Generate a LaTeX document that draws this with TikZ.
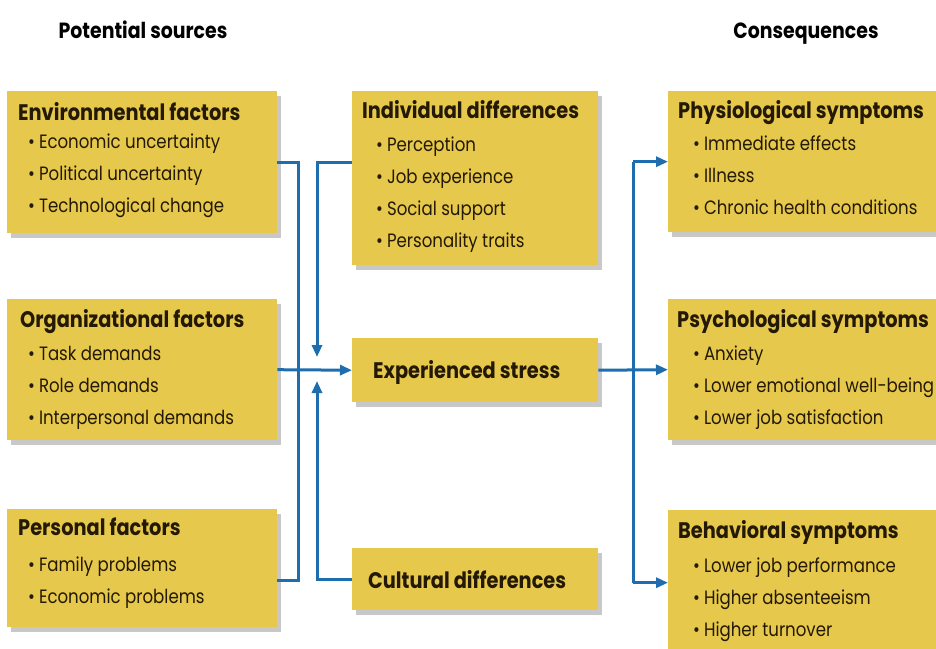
\documentclass[tikz,border=0pt]{standalone}
\usepackage{fontspec}
\setmainfont{Poppins}[FakeStretch=0.86]
\usetikzlibrary{arrows.meta,shadows}
\definecolor{boxfill}{RGB}{230,200,76}
\definecolor{linkblue}{RGB}{30,110,175}
\definecolor{txtdark}{RGB}{35,25,5}
\newcommand\boxtext[7]{% name, title x, title baseline, item x, first item baseline, title, items
  \node[ttl] (#1-t) at (#2,#3) {#6};
  \foreach \txt [count=\k] in {#7} {
    \node[itm] (#1-\k) at (#4, #5+\k*32-32) {\textbullet\hspace{4pt}\txt};
  }
}
\begin{document}
\begin{tikzpicture}[x=1pt,y=-1pt,
  box/.style={draw=none, fill=boxfill, inner sep=0pt, anchor=north west,
    drop shadow={shadow xshift=4pt, shadow yshift=-5pt, fill=black!70, opacity=0.3}},
  ttl/.style={font=\bfseries\fontsize{22.5}{26}\selectfont, text=txtdark, inner sep=0pt, anchor=base west},
  itm/.style={font=\fontsize{19.3}{23}\selectfont, text=txtdark, inner sep=0pt, anchor=base west},
  hdr/.style={font=\bfseries\fontsize{22}{26}\selectfont, text=black, inner sep=0pt, anchor=base},
  link/.style={draw=linkblue, line width=3pt},
  arr/.style={link, -{Triangle[length=12pt,width=10pt]}},
]
\useasboundingbox (0,0) rectangle (936,648);
\fill[white] (0,0) rectangle (936,648);

\node[hdr] (hsrc) at (143,38) {Potential sources};
\node[hdr] (hcon) at (806,38) {Consequences};

\node[box, minimum width=270pt, minimum height=142pt] (env) at (7,91) {};
\node[box, minimum width=270pt, minimum height=141pt] (org) at (7,299) {};
\node[box, minimum width=270pt, minimum height=118pt] (pers) at (7,509) {};
\node[box, minimum width=246pt, minimum height=174pt] (ind) at (352,91) {};
\node[box, minimum width=246pt, minimum height=64pt] (exp) at (352,338) {};
\node[box, minimum width=246pt, minimum height=62pt] (cult) at (352,548) {};
\node[box, minimum width=275pt, minimum height=141pt] (phys) at (668,91) {};
\node[box, minimum width=275pt, minimum height=141pt] (psy) at (668,299) {};
\node[box, minimum width=275pt, minimum height=145pt] (beh) at (668,510) {};

\boxtext{envt}{18}{120}{28}{148}{Environmental factors}{Economic uncertainty,Political uncertainty,Technological change}
\boxtext{orgt}{20}{327}{28}{360}{Organizational factors}{Task demands,Role demands,Interpersonal demands}
\boxtext{perst}{18}{535}{28}{571}{Personal factors}{Family problems,Economic problems}
\boxtext{indt}{362}{118}{376}{151}{Individual differences}{Perception,Job experience,Social support,Personality traits}
\node[ttl] (expt) at (373,378) {Experienced stress};
\node[ttl] (cultt) at (368,588) {Cultural differences};
\boxtext{physt}{678}{118}{693}{150}{Physiological symptoms}{Immediate effects,Illness,Chronic health conditions}
\boxtext{psyt}{677}{327}{693}{360}{Psychological symptoms}{Anxiety,Lower emotional well-being,Lower job satisfaction}
\boxtext{beht}{678}{538}{693}{572}{Behavioral symptoms}{Lower job performance,Higher absenteeism,Higher turnover}

% buses and tips
\coordinate (lbus) at (298,0);
\coordinate (rbus) at (317,0);
\coordinate (cbus) at (633,0);
\coordinate (persout) at ([yshift=-12pt]pers.east);
\coordinate (indout) at ([yshift=-71pt]ind.north west);
\coordinate (downtip) at (317,357);
\coordinate (uptip) at (317,381);

\draw[link] (env.east) -| (lbus |- persout) -- (persout);
\draw[arr] (org.east) -- (exp.west);
\draw[arr] (indout) -| (downtip);
\draw[arr] (cult.west) -| (uptip);

\draw[arr] (exp.east) -- (psy.west);
\draw[link] (cbus |- phys.west) -- (cbus |- beh.west);
\draw[arr] (cbus |- phys.west) -- (phys.west);
\draw[arr] (cbus |- beh.west) -- (beh.west);
\end{tikzpicture}
\end{document}
